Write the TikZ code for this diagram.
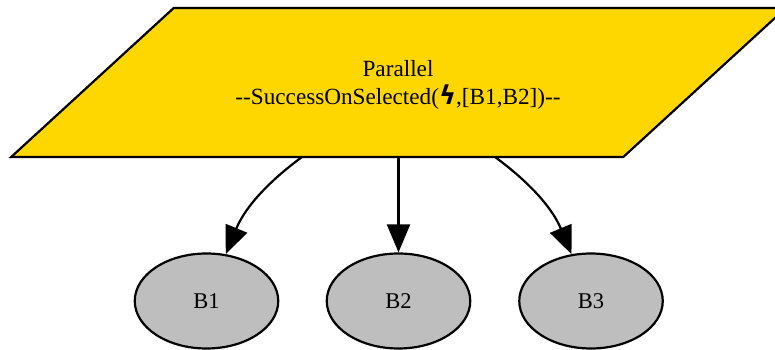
\documentclass[tikz,border=0pt]{standalone}
\usepackage{fontspec}
\setmainfont{Liberation Serif}
\newfontfamily\symfont{DejaVu Sans}
\usetikzlibrary{arrows.meta,shapes.geometric}
\definecolor{leafgray}{RGB}{190,190,190}
\definecolor{rootgold}{RGB}{255,215,0}
\tikzset{root node/.style={trapezium,trapezium left angle=68.5,trapezium right angle=111.5,trapezium stretches=true,draw,line width=2.2pt,fill=rootgold,inner sep=0pt}}
\tikzset{root label/.style={align=center,inner sep=0pt,font=\fontsize{23.2}{28}\selectfont}}
\tikzset{leaf node/.style={ellipse,draw,line width=2.2pt,fill=leafgray,minimum width=143.5,minimum height=95,inner sep=0pt,font=\fontsize{22.5}{28}\selectfont}}
\tikzset{flow edge/.style={draw,line width=2.2pt,-{Triangle[length=28pt,width=23pt]}}}
\begin{document}
\begin{tikzpicture}[x=1pt,y=-1pt]
\useasboundingbox (0,0) rectangle (775,350);

\node[root node,minimum width=775,minimum height=149] (root) at (398.5,82.5) {\phantom{x}};
\node[root label] (rootlabel) at (398,85)
    {Parallel\\-{}-SuccessOnSelected({\symfont\bfseries\fontsize{26}{28}\selectfont ϟ},[B1,B2])-{}-};

\node[leaf node] (B1) at (206.5,301) {B1};
\node[leaf node] (B2) at (398.5,301) {B2};
\node[leaf node] (B3) at (591,301) {B3};

\coordinate (R1) at (302,157);
\coordinate (R2) at (398.5,157);
\coordinate (R3) at (495,157);

\draw[flow edge] (R1) .. controls (272,179) and (246,205) .. (B1);
\draw[flow edge] (R2) -- (B2);
\draw[flow edge] (R3) .. controls (525,179) and (551,205) .. (B3);

\end{tikzpicture}
\end{document}
